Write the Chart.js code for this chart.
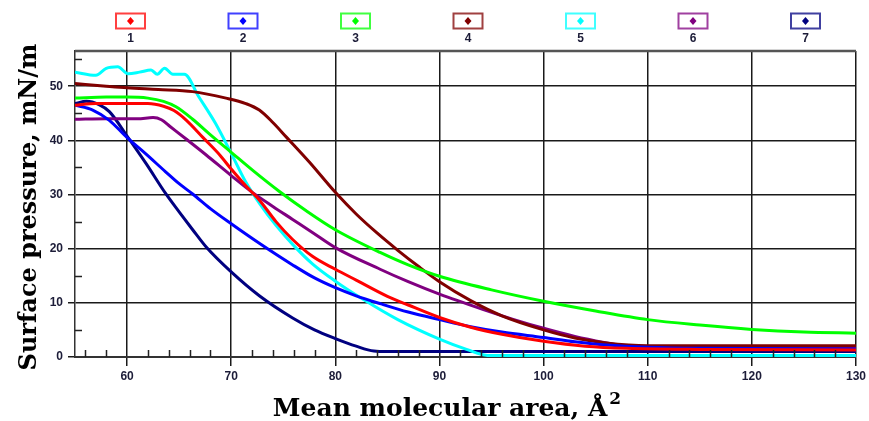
<!DOCTYPE html>
<html>

<head>
    <meta charset="UTF-8">
    <title>Surface pressure isotherms</title>
    <script src="https://cdn.jsdelivr.net/npm/chart.js"></script>
    <style>
        body {
            margin: 0;
            background-color: #ffffff;
        }

        #wrap {
            width: 869px;
            height: 421px;
        }
    </style>
</head>

<body>
    <div id="wrap">
        <canvas id="isothermChart" width="869" height="421"></canvas>
    </div>

    <script>
        // legend labels and line colours
        var seriesLabels = ['1', '2', '3', '4', '5', '6', '7'];
        var seriesColors = ['#ff0000', '#0000ff', '#00ff00', '#800000', '#00ffff', '#800080', '#000080'];

        // tick labels
        var xTicks = [60, 70, 80, 90, 100, 110, 120, 130];
        var yTicks = [0, 10, 20, 30, 40, 50];

        var xTitle = 'Mean molecular area, Å';
        var xTitleSup = '2';
        var yTitle = 'Surface pressure, mN/m';

        // isotherms: mean molecular area (Å²) vs surface pressure (mN/m)
        var area1 = [55, 57, 60, 62, 63.5, 64.5, 65.7, 67.3, 68.9, 70, 71.4, 72.7, 74.3, 75.9, 77.8, 80, 82, 85, 87, 90, 93, 96, 100, 104, 108, 115, 130];
        var pressure1 = [46.5, 46.8, 46.8, 46.8, 46.3, 45.5, 43.7, 40.5, 37.3, 34.7, 31.6, 29, 25, 21.7, 18.6, 16.2, 14.2, 11.2, 9.6, 7.3, 5.5, 4.2, 2.9, 2.0, 1.6, 1.4, 1.3];

        var area2 = [55, 56.7, 58.3, 60, 61.8, 63.7, 65, 66.3, 68, 70, 72.7, 75.9, 78, 80, 82, 84.4, 87, 90, 93, 96, 100, 103, 106, 110, 115, 130];
        var pressure2 = [46.5, 45.6, 43.7, 40.5, 37.5, 34.2, 32, 30.1, 27.4, 24.6, 21.0, 17.0, 14.6, 12.8, 11.3, 9.8, 8.3, 6.9, 5.6, 4.6, 3.6, 2.8, 2.2, 1.8, 1.6, 1.5];

        var area3 = [55, 58, 60, 62, 63.5, 64.7, 66.3, 67.9, 70, 72.1, 74.6, 77.2, 80, 84.3, 87, 90, 95, 100, 105, 110, 115, 120, 125, 130];
        var pressure3 = [47.8, 48, 48, 47.8, 47.2, 46.2, 43.9, 41.2, 37.8, 34.4, 30.6, 27, 23.5, 19.3, 17, 14.9, 12.4, 10.3, 8.5, 6.9, 5.9, 5.1, 4.6, 4.4];

        var area4 = [55, 58, 60, 63, 66.3, 69.5, 71.4, 72.7, 74, 75.3, 77.5, 80, 82, 84, 86, 88, 90, 93, 96, 100, 103, 106, 110, 130];
        var pressure4 = [50.5, 50, 49.7, 49.4, 49, 47.8, 46.8, 45.6, 43.3, 40.6, 36.0, 30.4, 26.4, 22.9, 19.7, 16.7, 13.9, 10.4, 7.6, 5.0, 3.5, 2.6, 2.1, 2.1];

        var area5 = [55, 57, 58, 59.1, 60.1, 61.2, 62.3, 62.9, 63.6, 64.4, 65.5, 66.9, 68.5, 70, 71.4, 72.7, 74.3, 75.9, 77.8, 80, 82.7, 86, 90, 92.6, 94.6, 130];
        var pressure5 = [52.6, 52.0, 53.3, 53.6, 52.3, 52.6, 53, 52.2, 53.3, 52.2, 52.2, 48, 43.1, 37.6, 32.3, 28.4, 24.3, 20.8, 17.2, 14, 10.6, 6.9, 3.3, 1.4, 0.3, 0.3];

        var area6 = [55, 58, 61, 62.5, 63.3, 64.1, 65.7, 67.6, 70, 72.1, 74, 75.9, 77.8, 80, 84.3, 87, 90, 94.3, 97, 100, 103, 105.8, 108, 110, 115, 130];
        var pressure6 = [43.9, 44, 44, 44.2, 43.8, 42.6, 40.2, 37.3, 33.5, 30.3, 27.8, 25.4, 23, 20.2, 16.2, 13.9, 11.6, 8.7, 7.0, 5.3, 3.8, 2.7, 2.0, 1.7, 1.6, 1.6];

        var area7 = [55, 56.1, 57.3, 58.3, 60, 61.8, 63.7, 65, 66.3, 67.6, 70, 72.7, 75.9, 78, 80, 82, 83.7, 85, 130];
        var pressure7 = [46.8, 47.2, 46.6, 45.3, 40.8, 35.8, 30.2, 26.8, 23.5, 20.3, 15.7, 11.3, 7.2, 5.0, 3.4, 2.0, 1.1, 1.0, 1.0];

        var areas = [area1, area2, area3, area4, area5, area6, area7];
        var pressures = [pressure1, pressure2, pressure3, pressure4, pressure5, pressure6, pressure7];

        var datasets = areas.map(function (area, i) {
            return {
                label: seriesLabels[i],
                data: area.map(function (a, j) { return { x: a, y: pressures[i][j] }; }),
                borderColor: seriesColors[i],
                backgroundColor: seriesColors[i],
                borderWidth: 3,
                pointRadius: 0,
                cubicInterpolationMode: 'monotone',
                fill: false
            };
        });

        var tickFont = { family: "'Liberation Sans', Arial, sans-serif", size: 12, weight: 'bold' };
        var tickColor = '#1c1c38';

        // boxed legend with numbers underneath
        var boxLegend = {
            id: 'boxLegend',
            afterDraw: function (chart) {
                var ctx = chart.ctx;
                ctx.save();
                chart.data.datasets.forEach(function (ds, i) {
                    var cx = 130.5 + i * 112.5;
                    ctx.globalAlpha = 0.75;
                    ctx.strokeStyle = ds.borderColor;
                    ctx.lineWidth = 2;
                    ctx.strokeRect(cx - 14.5, 13.5, 29, 15);
                    ctx.globalAlpha = 1;
                    ctx.fillStyle = ds.borderColor;
                    ctx.beginPath();
                    ctx.moveTo(cx, 17);
                    ctx.lineTo(cx + 3.5, 21);
                    ctx.lineTo(cx, 25);
                    ctx.lineTo(cx - 3.5, 21);
                    ctx.closePath();
                    ctx.fill();
                    ctx.fillStyle = tickColor;
                    ctx.font = 'bold 12px "Liberation Sans", Arial, sans-serif';
                    ctx.textAlign = 'center';
                    ctx.textBaseline = 'middle';
                    ctx.fillText(ds.label, cx, 39);
                });
                ctx.restore();
            }
        };

        // top frame line, minor ticks and axis titles
        var frameAndTitles = {
            id: 'frameAndTitles',
            afterDatasetsDraw: function (chart) {
                var ctx = chart.ctx;
                var area = chart.chartArea;
                var xs = chart.scales.x;
                var ys = chart.scales.y;
                ctx.save();
                ctx.strokeStyle = '#222';
                ctx.lineWidth = 1.5;
                ctx.beginPath();
                for (var v = 56; v < 130; v += 2) {
                    if (v % 10 === 0) continue;
                    var px = Math.round(xs.getPixelForValue(v)) + 0.5;
                    ctx.moveTo(px, area.bottom);
                    ctx.lineTo(px, area.bottom - 7);
                }
                for (var w = 5; w < 57; w += 10) {
                    var py = Math.round(ys.getPixelForValue(w)) + 0.5;
                    ctx.moveTo(area.left, py);
                    ctx.lineTo(area.left + 7, py);
                }
                ctx.stroke();

                ctx.strokeStyle = '#555';
                ctx.lineWidth = 2.5;
                ctx.beginPath();
                ctx.moveTo(area.left, area.top);
                ctx.lineTo(area.right, area.top);
                ctx.stroke();

                // x title with a raised "2"
                ctx.fillStyle = '#000';
                ctx.textAlign = 'left';
                ctx.textBaseline = 'alphabetic';
                ctx.font = 'bold 25px "DejaVu Serif", serif';
                var mainW = ctx.measureText(xTitle).width;
                ctx.font = 'bold 17px "DejaVu Serif", serif';
                var supW = ctx.measureText(xTitleSup).width;
                var startX = 447 - (mainW + supW + 2) / 2;
                ctx.font = 'bold 25px "DejaVu Serif", serif';
                ctx.fillText(xTitle, startX, 416);
                ctx.font = 'bold 17px "DejaVu Serif", serif';
                ctx.fillText(xTitleSup, startX + mainW + 2, 404);

                ctx.translate(36, 207);
                ctx.rotate(-Math.PI / 2);
                ctx.textAlign = 'center';
                ctx.font = 'bold 24px "DejaVu Serif", serif';
                ctx.fillText(yTitle, 0, 0);
                ctx.restore();
            }
        };

        var ctx = document.getElementById('isothermChart').getContext('2d');
        var isothermChart = new Chart(ctx, {
            type: 'line',
            data: { datasets: datasets },
            plugins: [boxLegend, frameAndTitles],
            options: {
                responsive: false,
                animation: false,
                devicePixelRatio: 1,
                layout: {
                    padding: { top: 51, right: 13, bottom: 0, left: 0 }
                },
                plugins: {
                    legend: { display: false },
                    tooltip: { enabled: false }
                },
                scales: {
                    x: {
                        type: 'linear',
                        min: 55,
                        max: 130,
                        afterBuildTicks: function (scale) {
                            scale.ticks = xTicks.map(function (v) { return { value: v }; });
                        },
                        afterFit: function (scale) { scale.height = 64; },
                        grid: { color: '#1a1a1a', lineWidth: 1.5, tickLength: 9 },
                        border: { color: '#333', width: 2 },
                        ticks: { font: tickFont, color: tickColor, padding: 3, maxRotation: 0 }
                    },
                    y: {
                        type: 'linear',
                        min: 0,
                        max: 56.5,
                        afterBuildTicks: function (scale) {
                            scale.ticks = yTicks.map(function (v) { return { value: v }; });
                        },
                        afterFit: function (scale) { scale.width = 75; },
                        grid: { color: '#1a1a1a', lineWidth: 1.5, tickLength: 7 },
                        border: { color: '#333', width: 1.5 },
                        ticks: { font: tickFont, color: tickColor, padding: 5 }
                    }
                }
            }
        });
    </script>
</body>

</html>
